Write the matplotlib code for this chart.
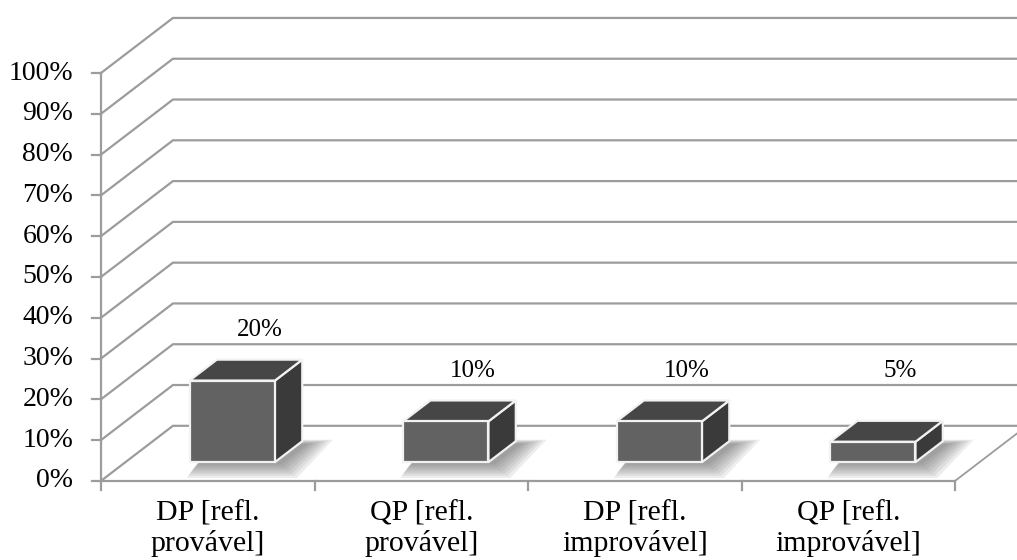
import matplotlib
matplotlib.use("Agg")
import matplotlib.pyplot as plt
from matplotlib.patches import Polygon

plt.rcParams['font.family'] = ['Liberation Serif', 'DejaVu Serif']

categories = ["DP [refl.\nprovável]", "QP [refl.\nprovável]",
              "DP [refl.\nimprovável]", "QP [refl.\nimprovável]"]
values = [20, 10, 10, 5]
yticks = [0, 10, 20, 30, 40, 50, 60, 70, 80, 90, 100]

# oblique depth of the 3D box (in category units / percent units)
DX = 0.337
DY = 13.5
D0, D1 = 0.34, 0.72   # bar front / back depth fraction
BW = 0.4

grid_c = "#9c9c9c"
front_c = "#626262"
top_c = "#464646"
side_c = "#3a3a3a"

fig = plt.figure(figsize=(10.17, 5.6), dpi=100)
ax = fig.add_axes([0, 0, 1, 1])
ax.set_xlim(-0.473, 4.29)
ax.set_ylim(-19.4, 117.9)
ax.axis("off")

n = len(categories)

# back wall gridlines with their diagonal on the left side wall
for t in yticks:
    ax.plot([0, DX, 10], [t, t + DY, t + DY], color=grid_c, lw=1.6,
            solid_joinstyle="miter", zorder=1)

# floor front edge and right edge
ax.plot([0, n], [0, 0], color=grid_c, lw=1.6, zorder=1)
ax.plot([n, n + DX], [0, DY], color=grid_c, lw=1.3, zorder=1)

# value axis
ax.plot([0, 0], [0, 100], color=grid_c, lw=1.6, zorder=2)
for t in yticks:
    ax.plot([-0.04, 0], [t, t], color=grid_c, lw=1.6, zorder=2)
    ax.text(-0.13, t, f"{t}%", ha="right", va="center", fontsize=20)

# category axis ticks
for i in range(n + 1):
    ax.plot([i, i], [0, -2.2], color=grid_c, lw=1.6, zorder=2)

for i, (cat, v) in enumerate(zip(categories, values)):
    c = i + 0.5
    xl, xr = c - BW / 2, c + BW / 2
    x0, y0 = D0 * DX, D0 * DY
    x1, y1 = D1 * DX, D1 * DY

    # blurred floor shadow: footprint shifted right, stacked with growing margins
    sx, sy = 0.03, -0.6
    for k in range(7):
        ex = 0.012 * (6 - k)
        ey = 0.55 * (6 - k)
        shadow = Polygon([(xl + x0 + sx - ex * 0.6, y0 + sy - ey),
                          (xr + x0 + sx + ex, y0 + sy - ey),
                          (xr + x1 + sx + ex * 1.6, y1 + sy + ey * 0.3),
                          (xl + x1 + sx - ex * 0.6, y1 + sy + ey * 0.3)],
                         closed=True, facecolor="#404040", edgecolor="none",
                         alpha=0.09, zorder=3)
        ax.add_patch(shadow)

    front = Polygon([(xl + x0, y0), (xr + x0, y0), (xr + x0, y0 + v), (xl + x0, y0 + v)],
                    closed=True, facecolor=front_c, edgecolor="#f2f2f2", lw=1.6, zorder=5)
    top = Polygon([(xl + x0, y0 + v), (xr + x0, y0 + v), (xr + x1, y1 + v), (xl + x1, y1 + v)],
                  closed=True, facecolor=top_c, edgecolor="#f2f2f2", lw=1.6, zorder=4)
    side = Polygon([(xr + x0, y0), (xr + x1, y1), (xr + x1, y1 + v), (xr + x0, y0 + v)],
                   closed=True, facecolor=side_c, edgecolor="#f2f2f2", lw=1.6, zorder=4)
    for p in (side, top, front):
        ax.add_patch(p)

    ax.text(c + D1 * DX, max(v, 10) + 17, f"{v}%", ha="center", va="center", fontsize=18)
    ax.text(c, -4.8, cat, ha="center", va="top", fontsize=21.5, linespacing=1.15)

fig.savefig("out.png", dpi=100)
